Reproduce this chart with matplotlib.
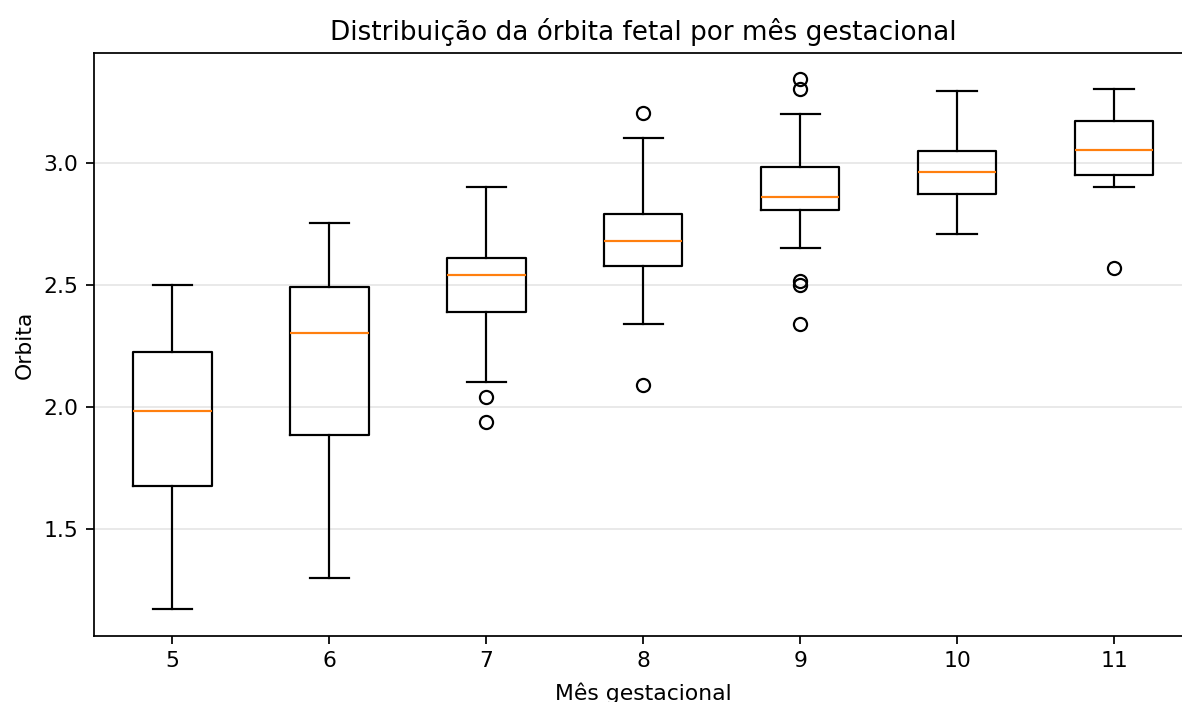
import matplotlib
matplotlib.use("Agg")
import matplotlib.pyplot as plt

meses = [5, 6, 7, 8, 9, 10, 11]
medianas = [1.984, 2.305, 2.541, 2.680, 2.861, 2.963, 3.053]
q1 = [1.676, 1.885, 2.389, 2.578, 2.807, 2.873, 2.951]
q3 = [2.225, 2.492, 2.611, 2.791, 2.984, 3.049, 3.172]
whis_min = [1.172, 1.299, 2.102, 2.340, 2.652, 2.709, 2.902]
whis_max = [2.500, 2.754, 2.902, 3.102, 3.201, 3.295, 3.303]
outliers = [
    [],
    [],
    [2.041, 1.939],
    [3.205, 2.090],
    [3.344, 3.303, 2.516, 2.500, 2.340],
    [],
    [2.570],
]

stats = []
for i in range(len(meses)):
    stats.append({
        "med": medianas[i],
        "q1": q1[i],
        "q3": q3[i],
        "whislo": whis_min[i],
        "whishi": whis_max[i],
        "fliers": outliers[i],
        "label": str(meses[i]),
    })

W, H, DPI = 1182, 702, 157.5
fig = plt.figure(figsize=(W / DPI, H / DPI), dpi=DPI)
ax = fig.add_axes([94 / W, (H - 636) / H, (1192.5 - 94) / W, (636 - 53) / H])

ax.bxp(stats, positions=range(1, len(meses) + 1), widths=0.5)
ax.set_xlim(0.5, len(meses) + 0.5)
ax.set_ylim(1.061, 3.451)
ax.set_yticks([1.5, 2.0, 2.5, 3.0])
ax.grid(axis="y", alpha=0.3)
ax.set_axisbelow(True)

ax.set_title("Distribuição da órbita fetal por mês gestacional")
ax.set_xlabel("Mês gestacional", labelpad=5)
ax.set_ylabel("Orbita")

fig.savefig("out.png", dpi=DPI)
